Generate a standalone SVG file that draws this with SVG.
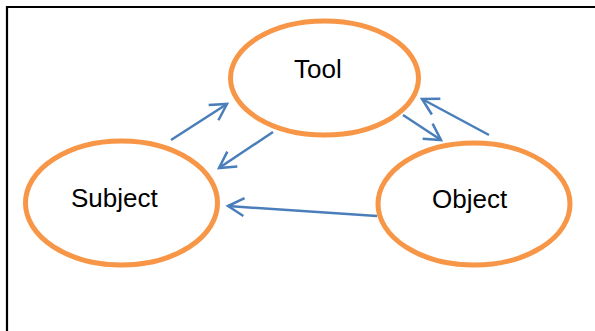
<svg xmlns="http://www.w3.org/2000/svg" width="595" height="331" viewBox="0 0 595 331">
<defs>
<style>
.node ellipse{fill:#fff;stroke:#F79646;stroke-width:5}
.node text{font-family:"Liberation Sans",Arial,sans-serif;font-size:26px;fill:#000}
.conn line{stroke:#4A7EBB;stroke-width:2.5;fill:none}
.frame{stroke:#000;stroke-width:2.2;fill:none}
</style>
<marker id="arr" markerUnits="userSpaceOnUse" markerWidth="40" markerHeight="40" viewBox="-20 -20 40 40" refX="0" refY="0" orient="auto">
<path d="M-16,-9 L0,0 L-16,9" fill="none" stroke="#4A7EBB" stroke-width="2.5" stroke-linejoin="miter"/>
</marker>
</defs>
<rect width="595" height="331" fill="#fff"/>
<path class="frame" d="M7,331 V7 H595"/>
<g id="tool" class="node">
<ellipse cx="324.5" cy="78" rx="94" ry="57"/>
<text x="294" y="78">Tool</text>
</g>
<g id="subject" class="node">
<ellipse cx="121.5" cy="203" rx="96" ry="62"/>
<text x="71" y="207">Subject</text>
</g>
<g id="object" class="node">
<ellipse cx="474" cy="204" rx="96" ry="61"/>
<text x="432" y="208">Object</text>
</g>
<g id="connectors" class="conn">
<line x1="171" y1="140" x2="227" y2="104" marker-end="url(#arr)"/>
<line x1="273" y1="132" x2="219" y2="168" marker-end="url(#arr)"/>
<line x1="403" y1="115" x2="441" y2="140" marker-end="url(#arr)"/>
<line x1="489" y1="135" x2="422" y2="99" marker-end="url(#arr)"/>
<line x1="377" y1="216" x2="228" y2="206" marker-end="url(#arr)"/>
</g>
</svg>
